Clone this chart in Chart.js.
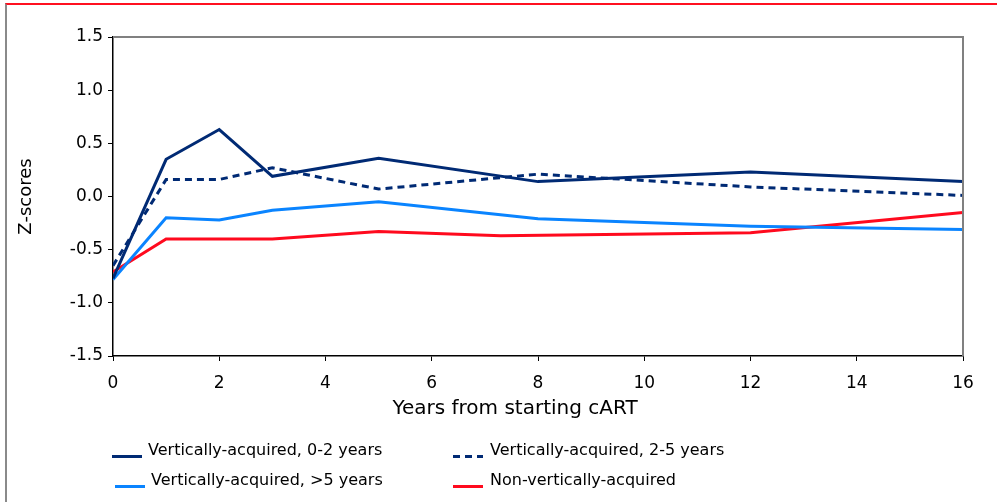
<!DOCTYPE html>
<html>
<head>
<meta charset="utf-8">
<script src="https://cdn.jsdelivr.net/npm/chart.js@4/dist/chart.umd.min.js"></script>
<style>
  html, body { margin:0; padding:0; background:#fff; }
  #wrap { position:relative; width:997px; height:502px; overflow:hidden; font-family:'DejaVu Sans', Verdana, sans-serif; }
  #frame { position:absolute; left:5px; top:3px; width:992px; height:499px; border-top:2px solid #ff1020; border-left:2px solid #8a8a8a; box-sizing:border-box; }
  canvas { position:absolute; left:0; top:0; }
  .sw { position:absolute; height:3px; width:30px; }
  .lt { position:absolute; font-size:16px; line-height:18px; color:#000; white-space:nowrap; }
</style>
</head>
<body>
<div id="wrap">
  <div id="frame"></div>
  <canvas id="c" width="997" height="502"></canvas>
  <div class="sw" style="left:112px;top:455px;background:#002a74"></div>
  <div class="lt" style="left:148px;top:441px" id="l0"></div>
  <div class="sw" style="left:453px;top:455px;background:repeating-linear-gradient(to right,#002a74 0 7px,transparent 7px 12px)"></div>
  <div class="lt" style="left:490px;top:441px" id="l1"></div>
  <div class="sw" style="left:115px;top:485px;background:#0a84ff"></div>
  <div class="lt" style="left:151px;top:471px" id="l2"></div>
  <div class="sw" style="left:453px;top:485px;background:#ff0a1e"></div>
  <div class="lt" style="left:490px;top:471px" id="l3"></div>
</div>
<script>
// ---- data ----
const seriesNames = ['Vertically-acquired, 0-2 years', 'Vertically-acquired, 2-5 years', 'Vertically-acquired, >5 years', 'Non-vertically-acquired'];
const yearsV = [0, 1, 2, 3, 5, 8, 12, 16];
const v02 = [-0.77, 0.35, 0.63, 0.19, 0.36, 0.14, 0.23, 0.14];
const v25 = [-0.65, 0.16, 0.16, 0.27, 0.07, 0.21, 0.09, 0.01];
const v5p = [-0.78, -0.20, -0.22, -0.13, -0.05, -0.21, -0.28, -0.31];
const yearsN = [0, 1, 2, 3, 5, 7.3, 12, 16];
const nonV = [-0.71, -0.40, -0.40, -0.40, -0.33, -0.37, -0.34, -0.15];
const xTitle = 'Years from starting cART';
const yTitle = 'Z-scores';

seriesNames.forEach((n, i) => document.getElementById('l' + i).textContent = n);

const pts = (xs, ys) => xs.map((x, i) => ({x: x, y: ys[i]}));
const FONT = "'DejaVu Sans', Verdana, sans-serif";

const framePlugin = {
  id: 'frame',
  afterDraw(chart) {
    const {ctx, chartArea: a} = chart;
    ctx.save();
    ctx.strokeStyle = '#808080';
    ctx.lineWidth = 2;
    ctx.beginPath();
    ctx.moveTo(a.left, a.top);
    ctx.lineTo(a.right, a.top);
    ctx.lineTo(a.right, a.bottom);
    ctx.stroke();
    ctx.fillStyle = '#000';
    ctx.font = '20px ' + FONT;
    ctx.textAlign = 'center';
    ctx.textBaseline = 'middle';
    ctx.fillText(xTitle, 515, 409);
    ctx.restore();
  }
};

new Chart(document.getElementById('c'), {
  type: 'line',
  data: {
    datasets: [
      {label: seriesNames[0], data: pts(yearsV, v02), borderColor: '#002a74', borderWidth: 3},
      {label: seriesNames[1], data: pts(yearsV, v25), borderColor: '#002a74', borderWidth: 3, borderDash: [7, 5]},
      {label: seriesNames[2], data: pts(yearsV, v5p), borderColor: '#0a84ff', borderWidth: 3},
      {label: seriesNames[3], data: pts(yearsN, nonV), borderColor: '#ff0a1e', borderWidth: 3}
    ]
  },
  options: {
    responsive: false,
    animation: false,
    devicePixelRatio: 1,
    elements: {point: {radius: 0}, line: {tension: 0, fill: false}},
    layout: {padding: {top: 37, right: 34, bottom: 83.4, left: 0}},
    plugins: {legend: {display: false}, tooltip: {enabled: false}},
    scales: {
      x: {
        type: 'linear', min: 0, max: 16,
        ticks: {stepSize: 2, color: '#000', font: {family: FONT, size: 17}, padding: 12, maxRotation: 0},
        grid: {drawOnChartArea: false, drawTicks: true, tickLength: 5, color: '#000', lineWidth: 1},
        border: {color: '#000', width: 1.5},
        afterFit(s) { s.height = 62.6; }
      },
      y: {
        type: 'linear', min: -1.5, max: 1.5,
        ticks: {stepSize: 0.5, color: '#000', font: {family: FONT, size: 17}, padding: 5, callback: v => Number(v).toFixed(1)},
        grid: {drawOnChartArea: false, drawTicks: true, tickLength: 5, color: '#000', lineWidth: 1},
        border: {color: '#000', width: 1.5},
        title: {display: true, text: yTitle, color: '#000', font: {family: FONT, size: 18}, padding: {top: 16, bottom: 0}},
        afterFit(s) { s.width = 113; }
      }
    }
  },
  plugins: [framePlugin]
});
</script>
</body>
</html>
